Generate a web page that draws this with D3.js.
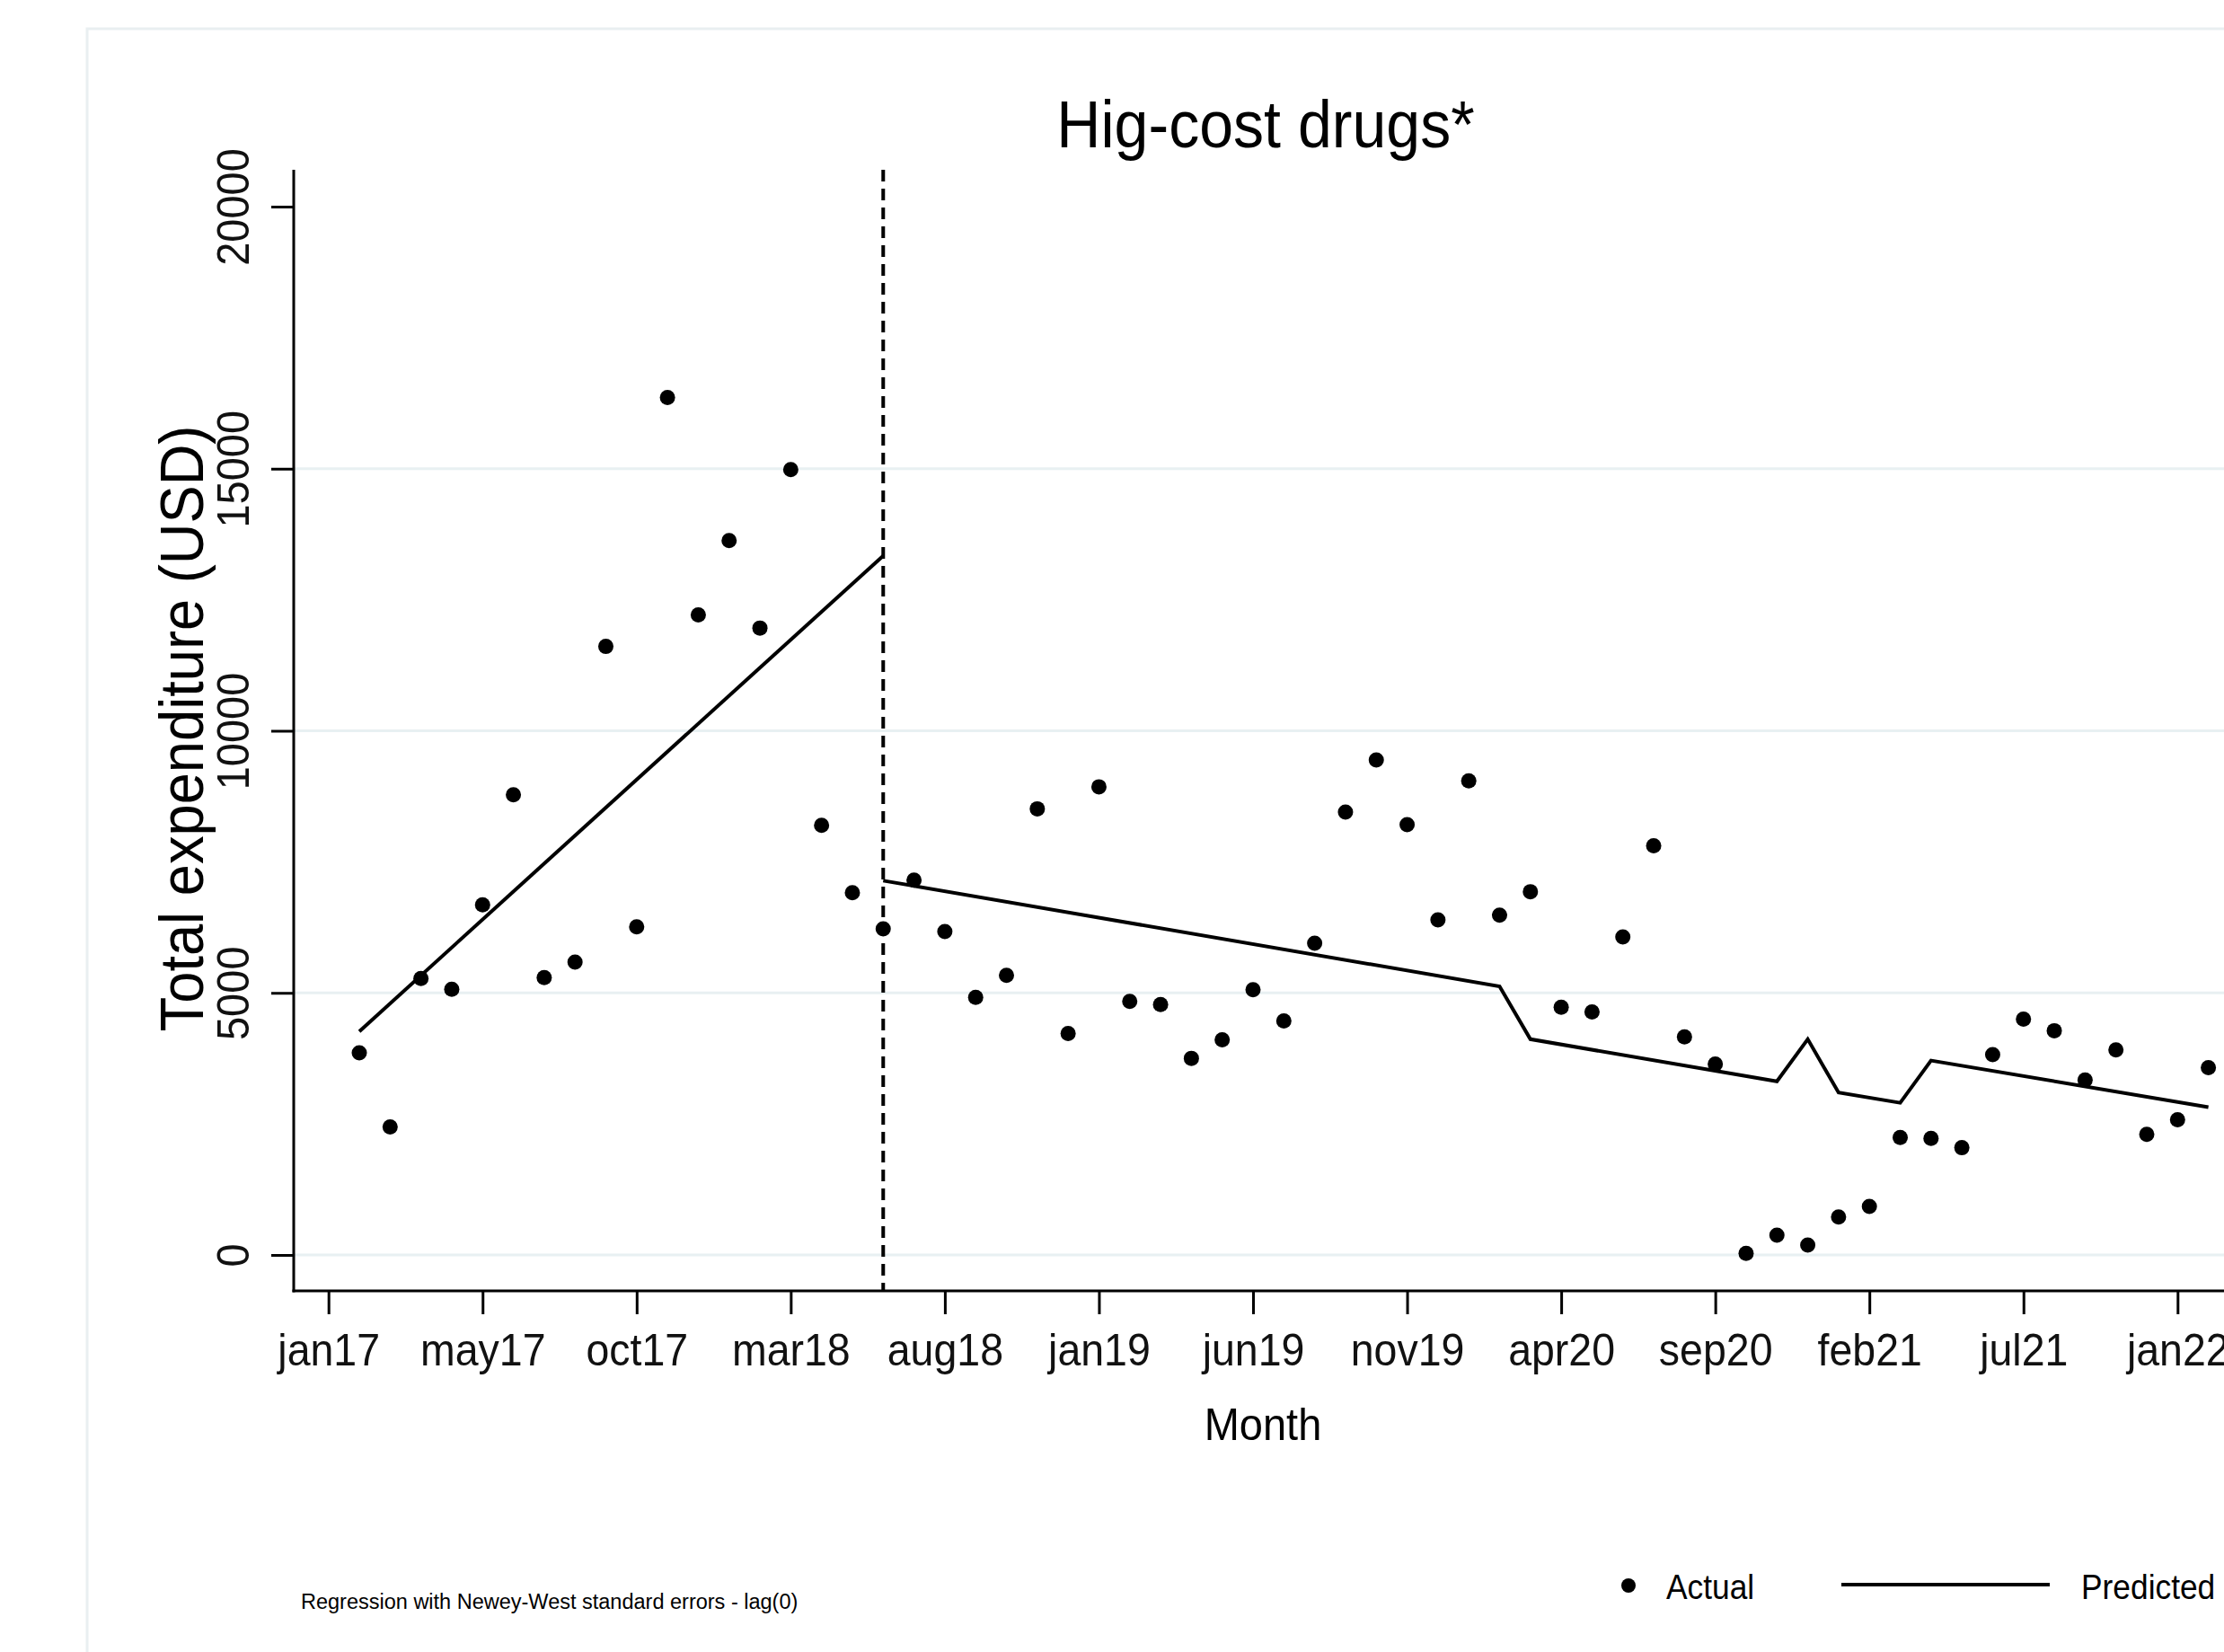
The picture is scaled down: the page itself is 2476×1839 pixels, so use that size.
<!DOCTYPE html>
<html><head><meta charset="utf-8">
<script src="https://cdn.jsdelivr.net/npm/d3@7"></script>
<style>html,body{margin:0;padding:0;background:#fff;overflow:hidden}</style>
</head><body>
<script>
// ---- data ----
const months = d3.range(1, 62); // month index (1 = first observed month)
const actualValues = [
  3858, 2442, 5273, 5068, 6680, 8778, 5290, 5587, 11609, 6258,
  16360, 12212, 13628, 11960, 14982, 8195, 6910, 6223, 7150, 6170,
  4913, 5335, 8511, 4226, 8931, 4838, 4776, 3751, 4103, 5059,
  4463, 5947, 8449, 9443, 8211, 6391, 9045, 6482, 6930, 4725,
  4635, 6067, 7806, 4160, 3642, 30, 377, 189, 723, 927,
  2242, 2224, 2046, 3820, 4499, 4278, 3337, 3913, 2302, 2581,
  3573
];
const predPreMonths = [1, 18];
const predPreValues = [4264, 13338];
const predPostMonths = [18, 38, 39, 47, 48, 49, 51, 52, 61];
const predPostValues = [7140, 5124, 4116, 3311, 4116, 3098, 2903, 3709, 2819];
const interventionMonth = 18;
const tickMonths = [0, 5, 10, 15, 20, 25, 30, 35, 40, 45, 50, 55, 60];
const tickLabels = ["jan17","may17","oct17","mar18","aug18","jan19","jun19","nov19","apr20","sep20","feb21","jul21","jan22"];
const yTicks = [0, 5000, 10000, 15000, 20000];
const gridTicks = [0, 5000, 10000, 15000];
const titleText = "Hig-cost drugs*";
const yTitle = "Total expenditure (USD)";
const xTitle = "Month";
const noteText = "Regression with Newey-West standard errors - lag(0)";
const legendLabels = ["Actual", "Predicted"];

// ---- layout ----
const W = 2476, H = 1839;
const FONT = "'Liberation Sans', Arial, Helvetica, sans-serif";
const axisX = 327, axisTop = 189, axisBottomY = 1437;

const svg = d3.select("body").append("svg")
  .attr("width", W).attr("height", H)
  .style("display", "block");

const x = d3.scaleLinear().domain([0, 60]).range([365.7, 2424.3]);
const y = d3.scaleLinear().domain([0, 20000]).range([1397, 230]);

// outer graph region frame
svg.append("rect")
  .attr("x", 97).attr("y", 32).attr("width", 2600).attr("height", 2000)
  .attr("fill", "none").attr("stroke", "#e9eff1").attr("stroke-width", 3);

// gridlines
svg.append("g").selectAll("line").data(gridTicks).join("line")
  .attr("x1", axisX).attr("x2", W + 10)
  .attr("y1", d => y(d)).attr("y2", d => y(d))
  .attr("stroke", "#e8f0f2").attr("stroke-width", 3);

// intervention line
svg.append("line")
  .attr("x1", x(interventionMonth)).attr("x2", x(interventionMonth))
  .attr("y1", axisTop).attr("y2", axisBottomY)
  .attr("stroke", "#000").attr("stroke-width", 4)
  .attr("stroke-dasharray", "13,8");

// predicted lines
const line = d3.line().x(d => x(d[0])).y(d => y(d[1]));
[[predPreMonths, predPreValues], [predPostMonths, predPostValues]].forEach(([ms, vs]) => {
  svg.append("path")
    .datum(ms.map((m, i) => [m, vs[i]]))
    .attr("d", line)
    .attr("fill", "none").attr("stroke", "#000")
    .attr("stroke-width", 4).attr("stroke-linejoin", "miter");
});

// actual points
svg.append("g").selectAll("circle").data(months.map((m, i) => [m, actualValues[i]])).join("circle")
  .attr("cx", d => x(d[0])).attr("cy", d => y(d[1])).attr("r", 8.5).attr("fill", "#000");

// x axis
const xAxis = d3.axisBottom(x).tickValues(tickMonths)
  .tickFormat((d, i) => tickLabels[i]).tickSize(26).tickSizeOuter(0);
const gx = svg.append("g").attr("transform", `translate(0,${axisBottomY})`).call(xAxis);
gx.select(".domain").remove();
gx.selectAll(".tick line").attr("stroke", "#000").attr("stroke-width", 3);
gx.selectAll(".tick text")
  .attr("y", 83).attr("dy", 0)
  .attr("transform", "scale(0.93,1)")
  .attr("font-family", FONT).attr("font-size", 50).attr("fill", "#111");

// y axis
const yAxis = d3.axisLeft(y).tickValues(yTicks).tickFormat(d3.format("d"))
  .tickSize(25).tickSizeOuter(0);
const gy = svg.append("g").attr("transform", `translate(${axisX},0)`).call(yAxis);
gy.select(".domain").remove();
gy.selectAll(".tick line").attr("stroke", "#000").attr("stroke-width", 3);
gy.selectAll(".tick text")
  .attr("x", 0).attr("y", 0).attr("dy", 0)
  .attr("text-anchor", "middle")
  .attr("transform", "translate(-50,0) rotate(-90) scale(0.94,1)")
  .attr("font-family", FONT).attr("font-size", 50).attr("fill", "#111");

// axis lines
svg.append("line").attr("x1", axisX).attr("x2", axisX).attr("y1", axisTop).attr("y2", axisBottomY + 1.5)
  .attr("stroke", "#000").attr("stroke-width", 3);
svg.append("line").attr("x1", axisX - 1.5).attr("x2", W + 10).attr("y1", axisBottomY).attr("y2", axisBottomY)
  .attr("stroke", "#000").attr("stroke-width", 3);

// text helper
function txt(str, tx, ty, size, sx, anchor, rot) {
  svg.append("text")
    .attr("transform", `translate(${tx},${ty})${rot ? ` rotate(${rot})` : ""} scale(${sx},1)`)
    .attr("text-anchor", anchor)
    .attr("font-family", FONT).attr("font-size", size).attr("fill", "#000")
    .text(str);
}
txt(titleText, 1409, 164, 74, 0.92, "middle");
txt(yTitle, 226, 811, 68, 0.93, "middle", -90);
txt(xTitle, 1406, 1603, 50, 0.94, "middle");
txt(noteText, 335, 1791, 23.5, 1, "start");

// legend
svg.append("circle").attr("cx", 1813).attr("cy", 1765).attr("r", 8).attr("fill", "#000");
txt(legendLabels[0], 1855, 1780, 38, 0.93, "start");
svg.append("line").attr("x1", 2050).attr("x2", 2282).attr("y1", 1764).attr("y2", 1764)
  .attr("stroke", "#000").attr("stroke-width", 4);
txt(legendLabels[1], 2317, 1780, 38, 0.93, "start");
</script>
</body></html>
